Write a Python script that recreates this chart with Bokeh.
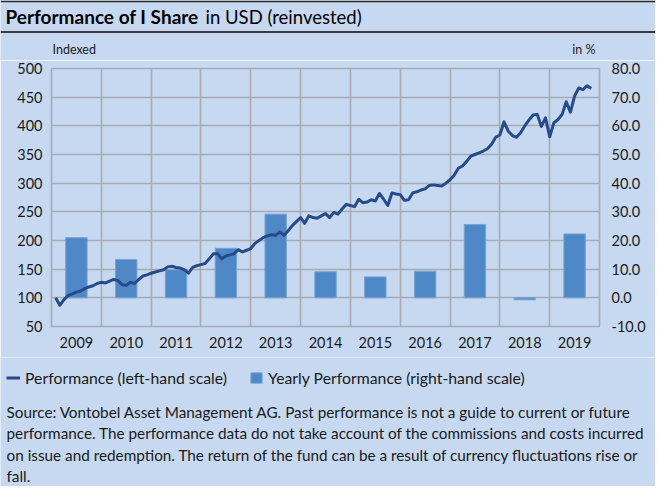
from bokeh.plotting import figure
from bokeh.layouts import column
from bokeh.models import (Range1d, LinearAxis, FixedTicker, NumeralTickFormatter,
                          Label, Legend, LegendItem, BoxAnnotation)
from bokeh.embed import file_html
from bokeh.resources import INLINE

# ---------------- data ----------------
years = [2009, 2010, 2011, 2012, 2013, 2014, 2015, 2016, 2017, 2018, 2019]
yearly_perf = [21.0, 13.4, 9.8, 17.3, 29.2, 9.1, 7.3, 9.3, 25.6, -0.7, 22.3]

# monthly indexed performance, starting end of Jan 2009
performance = [
    100, 87, 97, 104, 107, 110, 112, 116, 119, 121, 125, 127,
    126, 129, 132, 130, 123, 122, 127, 125, 132, 138, 140, 143,
    145, 147, 149, 154, 155, 153, 152, 149, 143, 153, 156, 158,
    160, 168, 177, 177, 168, 173, 175, 177, 184, 180, 183, 186,
    195, 200, 205, 208, 210, 209, 215, 209, 217, 226, 233, 240,
    230, 243, 240, 239, 243, 247, 240, 249, 246, 255, 263, 261,
    259, 272, 266, 267, 271, 269, 282, 272, 261, 283, 281, 280,
    270, 271, 283, 285, 288, 290, 296, 297, 296, 295, 300, 306,
    314, 326, 330, 338, 347, 350, 353, 356, 360, 368, 380, 384,
    407, 391, 383, 380, 388, 400, 410, 419, 420, 399, 414, 381,
    405, 411, 420, 442, 424, 452, 466, 463, 470, 465,
]
month_x = [years[0] + (i + 1) / 12 for i in range(len(performance))]
bar_x = [y + 0.5 for y in years]

left_ticks = [50, 100, 150, 200, 250, 300, 350, 400, 450, 500]
right_ticks = [-10, 0, 10, 20, 30, 40, 50, 60, 70, 80]

title_bold = "Performance of I Share"
title_rest = "in USD (reinvested)"
legend_labels = ["Performance (left-hand scale)", "Yearly Performance (right-hand scale)"]
source_lines = [
    "Source: Vontobel Asset Management AG. Past performance is not a guide to current or future",
    "performance. The performance data do not take account of the commissions and costs incurred",
    "on issue and redemption. The return of the fund can be a result of currency fluctuations rise or",
    "fall.",
]

# ---------------- styles ----------------
BG = "#c6d9f1"
GRID = "#a8acb2"
LINE = "#274a89"
BAR = "#4f88c6"
BAR_EDGE = "#78a3d5"
TXT = "#1a1a1a"
FONT = "Lato"
W = 655


def panel(h):
    f = figure(width=W, height=h, output_backend="svg", toolbar_location=None,
               x_range=Range1d(0, W), y_range=Range1d(0, h),
               x_axis_location=None, y_axis_location=None,
               min_border=0, title=None, frame_align=False)
    f.background_fill_color = BG
    f.border_fill_color = BG
    f.outline_line_color = None
    f.grid.visible = False
    return f


# ---------------- header ----------------
HH = 60
head = panel(HH)
head.add_layout(BoxAnnotation(left=0, right=W, top=60, bottom=58.3,
                              fill_color="#2a2a2a", fill_alpha=1, line_color=None))
head.add_layout(BoxAnnotation(left=0, right=W, top=29.5, bottom=27.5,
                              fill_color="#3a3a3a", fill_alpha=1, line_color=None))
head.add_layout(Label(x=5, y=44, text=title_bold, text_font=FONT, text_font_style="bold",
                      text_font_size="19px", text_color="black", text_baseline="middle"))
head.add_layout(Label(x=205, y=44, text=title_rest, text_font=FONT,
                      text_font_size="18.5px", text_color="black", text_baseline="middle"))
head.add_layout(Label(x=52, y=11, text="Indexed", text_font=FONT, text_font_size="12.5px",
                      text_color=TXT, text_baseline="middle"))
head.add_layout(Label(x=595, y=11, text="in %", text_font=FONT, text_font_size="12.5px",
                      text_color=TXT, text_baseline="middle", text_align="right"))

# ---------------- main chart ----------------
p = figure(width=W, height=297, output_backend="svg", toolbar_location=None,
           x_range=Range1d(years[0], years[-1] + 1),
           y_range=Range1d(left_ticks[0], left_ticks[-1]),
           min_border_left=51, min_border_right=56, min_border_top=8,
           min_border_bottom=31, title=None, frame_align=False)
p.background_fill_color = BG
p.border_fill_color = BG
p.outline_line_color = GRID
p.outline_line_width = 1.6
p.extra_y_ranges = {"pct": Range1d(right_ticks[0], right_ticks[-1])}

p.xaxis.ticker = FixedTicker(ticks=bar_x)
p.xaxis.major_label_overrides = {x: str(y) for x, y in zip(bar_x, years)}
p.yaxis.ticker = FixedTicker(ticks=left_ticks)
right_axis = LinearAxis(y_range_name="pct", ticker=FixedTicker(ticks=right_ticks),
                        formatter=NumeralTickFormatter(format="0.0"))
p.add_layout(right_axis, "right")

for ax in [p.xaxis[0], p.yaxis[0], right_axis]:
    ax.axis_line_color = None
    ax.major_tick_line_color = None
    ax.minor_tick_line_color = None
    ax.major_tick_out = 0
    ax.major_tick_in = 0
    ax.major_label_text_font = FONT
    ax.major_label_text_font_size = "14.5px"
    ax.major_label_text_color = TXT
p.yaxis[0].major_label_standoff = 9
right_axis.major_label_standoff = 12
p.xaxis[0].major_label_standoff = 10

p.xgrid.ticker = FixedTicker(ticks=years[1:])
p.ygrid.ticker = FixedTicker(ticks=left_ticks[1:-1])
for g in [p.xgrid[0], p.ygrid[0]]:
    g.grid_line_color = GRID
    g.grid_line_width = 1.6

p.vbar(x=bar_x, top=yearly_perf, bottom=0, width=0.43,
       y_range_name="pct", fill_color=BAR, line_color=BAR_EDGE, line_width=1)
p.line(x=month_x, y=performance, line_color=LINE, line_width=3, line_join="round")

# ---------------- footer: legend + source ----------------
FH = 129
foot = panel(FH)
# legend proxies: same series, lying outside this panel's visible range
leg_line = foot.line(x=month_x, y=performance, line_color=LINE, line_width=3)
leg_bar = foot.vbar(x=bar_x, top=yearly_perf, bottom=0, width=0.43,
                    fill_color=BAR, line_color=BAR_EDGE)
legend = Legend(items=[LegendItem(label=legend_labels[0], renderers=[leg_line]),
                       LegendItem(label=legend_labels[1], renderers=[leg_bar])],
                location=(6, 99), orientation="horizontal",
                background_fill_alpha=0, border_line_color=None,
                padding=0, margin=0, spacing=22, label_standoff=5,
                glyph_width=14, glyph_height=13,
                label_text_font=FONT, label_text_font_size="15.8px",
                label_text_color=TXT)
foot.add_layout(legend, "center")

src_y = [75, 53.5, 32, 10.5]
for t, yy in zip(source_lines, src_y):
    foot.add_layout(Label(x=6, y=yy, text=t, text_font=FONT, text_font_size="15.3px",
                          text_color=TXT, text_baseline="middle"))

layout = column(head, p, foot, spacing=0)
open("out.html", "w").write(file_html(layout, INLINE))
